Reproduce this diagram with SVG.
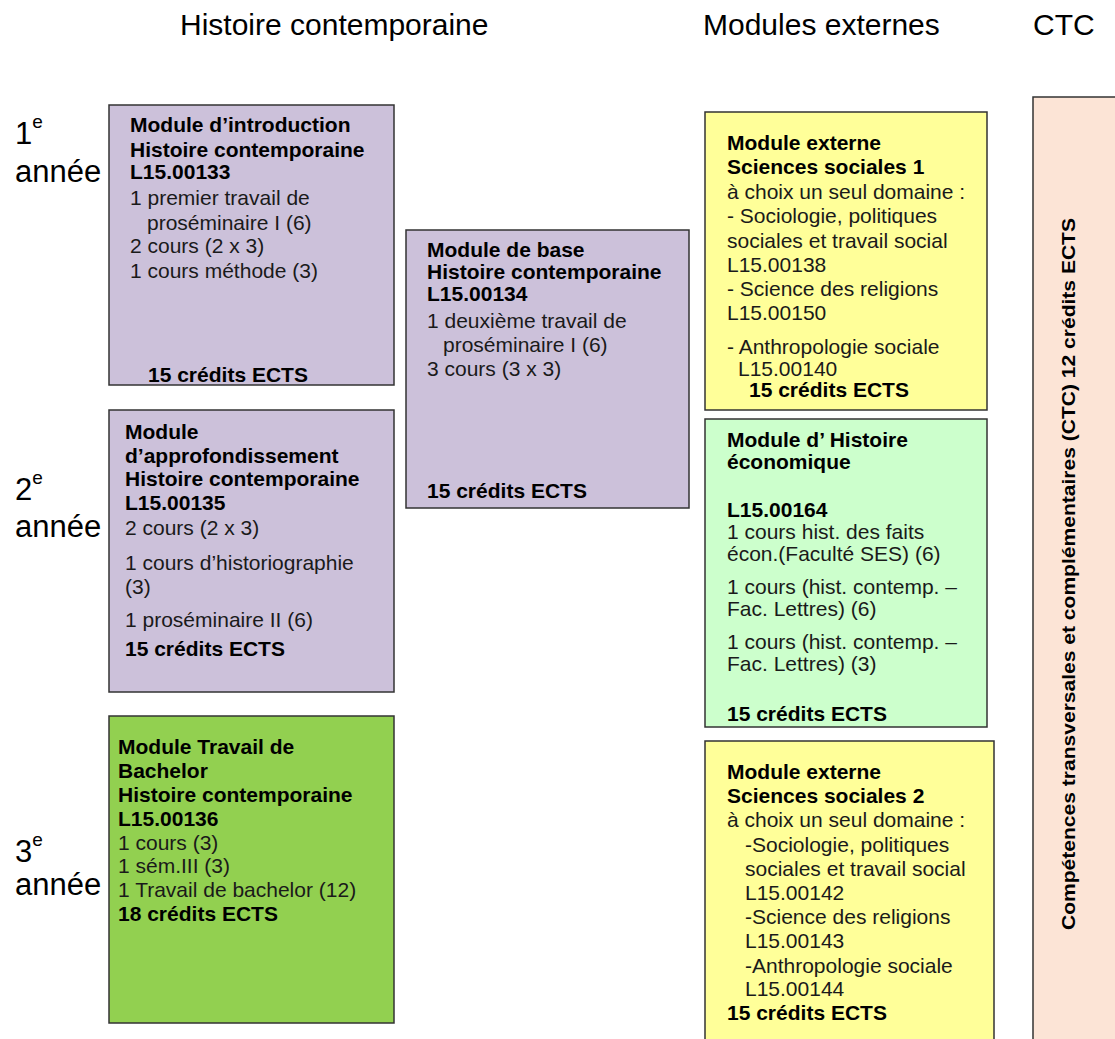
<svg xmlns="http://www.w3.org/2000/svg" width="1115" height="1039" viewBox="0 0 1115 1039">
<style>
text{font-family:"Liberation Sans",Arial,sans-serif;fill:#000}
.hd{font-size:30px}
.yr{font-size:31px}
.sup{font-size:19px}
.t{font-size:21px;fill:#1a1a1a}
.b{font-weight:bold;fill:#000}
.box{stroke:#333;stroke-width:1.5}
.lav{fill:#CCC1DA}
.yel{fill:#FFFF99}
.lgr{fill:#CCFFCC}
.grn{fill:#92D050}
.pch{fill:#FCE4D6}
.ctc{font-size:18px;font-weight:bold}
</style>
<rect width="1115" height="1039" fill="#fff"/>
<g id="headers">
<text class="hd" x="180" y="35">Histoire contemporaine</text>
<text class="hd" x="703" y="35">Modules externes</text>
<text class="hd" x="1033" y="35">CTC</text>
</g>
<g id="years">
<text class="yr" x="15" y="144">1<tspan class="sup" dy="-16">e</tspan></text>
<text class="yr" x="15" y="182">année</text>
<text class="yr" x="15" y="500">2<tspan class="sup" dy="-16">e</tspan></text>
<text class="yr" x="15" y="537">année</text>
<text class="yr" x="15" y="862">3<tspan class="sup" dy="-16">e</tspan></text>
<text class="yr" x="15" y="895">année</text>
</g>
<g id="connectors"/>
<g id="intro">
<rect class="box lav" x="109" y="105" width="285" height="280"/>
<text class="t b" x="130" y="132">Module d’introduction</text>
<text class="t b" x="130" y="157">Histoire contemporaine</text>
<text class="t b" x="130" y="179">L15.00133</text>
<text class="t" x="130" y="205">1 premier travail de</text>
<text class="t" x="147" y="230">proséminaire I (6)</text>
<text class="t" x="130" y="253">2 cours (2 x 3)</text>
<text class="t" x="130" y="278">1 cours méthode (3)</text>
<text class="t b" x="148" y="382">15 crédits ECTS</text>
</g>
<g id="base">
<rect class="box lav" x="406" y="230" width="283" height="278"/>
<text class="t b" x="427" y="257">Module de base</text>
<text class="t b" x="427" y="279">Histoire contemporaine</text>
<text class="t b" x="427" y="301">L15.00134</text>
<text class="t" x="427" y="328">1 deuxième travail de</text>
<text class="t" x="443" y="352">proséminaire I (6)</text>
<text class="t" x="427" y="376">3 cours (3 x 3)</text>
<text class="t b" x="427" y="498">15 crédits ECTS</text>
</g>
<g id="approfondissement">
<rect class="box lav" x="109" y="410" width="285" height="282"/>
<text class="t b" x="125" y="439">Module</text>
<text class="t b" x="125" y="463">d’approfondissement</text>
<text class="t b" x="125" y="486">Histoire contemporaine</text>
<text class="t b" x="125" y="510">L15.00135</text>
<text class="t" x="125" y="535">2 cours (2 x 3)</text>
<text class="t" x="125" y="570">1 cours d’historiographie</text>
<text class="t" x="125" y="594">(3)</text>
<text class="t" x="125" y="627">1 proséminaire II (6)</text>
<text class="t b" x="125" y="656">15 crédits ECTS</text>
</g>
<g id="bachelor">
<rect class="box grn" x="109" y="716" width="285" height="307"/>
<text class="t b" x="118" y="754">Module Travail de</text>
<text class="t b" x="118" y="778">Bachelor</text>
<text class="t b" x="118" y="802">Histoire contemporaine</text>
<text class="t b" x="118" y="826">L15.00136</text>
<text class="t" x="118" y="850">1 cours (3)</text>
<text class="t" x="118" y="873">1 sém.III (3)</text>
<text class="t" x="118" y="897">1 Travail de bachelor (12)</text>
<text class="t b" x="118" y="921">18 crédits ECTS</text>
</g>
<g id="externe1">
<rect class="box yel" x="705" y="112" width="282" height="298"/>
<text class="t b" x="727" y="150">Module externe</text>
<text class="t b" x="727" y="174">Sciences sociales 1</text>
<text class="t" x="727" y="199">à choix un seul domaine :</text>
<text class="t" x="727" y="223">- Sociologie, politiques</text>
<text class="t" x="727" y="248">sociales et travail social</text>
<text class="t" x="727" y="272">L15.00138</text>
<text class="t" x="727" y="296">- Science des religions</text>
<text class="t" x="727" y="320">L15.00150</text>
<text class="t" x="727" y="354">- Anthropologie sociale</text>
<text class="t" x="738" y="376">L15.00140</text>
<text class="t b" x="749" y="397">15 crédits ECTS</text>
</g>
<g id="economique">
<rect class="box lgr" x="705" y="419" width="282" height="308"/>
<text class="t b" x="727" y="447">Module d’ Histoire</text>
<text class="t b" x="727" y="469">économique</text>
<text class="t b" x="727" y="517">L15.00164</text>
<text class="t" x="727" y="539">1 cours hist. des faits</text>
<text class="t" x="727" y="561">écon.(Faculté SES) (6)</text>
<text class="t" x="727" y="594">1 cours (hist. contemp. –</text>
<text class="t" x="727" y="616">Fac. Lettres) (6)</text>
<text class="t" x="727" y="649">1 cours (hist. contemp. –</text>
<text class="t" x="727" y="671">Fac. Lettres) (3)</text>
<text class="t b" x="727" y="721">15 crédits ECTS</text>
</g>
<g id="externe2">
<rect class="box yel" x="705" y="741" width="289" height="320"/>
<text class="t b" x="727" y="779">Module externe</text>
<text class="t b" x="727" y="803">Sciences sociales 2</text>
<text class="t" x="727" y="827">à choix un seul domaine :</text>
<text class="t" x="745" y="852">-Sociologie, politiques</text>
<text class="t" x="745" y="876">sociales et travail social</text>
<text class="t" x="745" y="900">L15.00142</text>
<text class="t" x="745" y="924">-Science des religions</text>
<text class="t" x="745" y="948">L15.00143</text>
<text class="t" x="745" y="973">-Anthropologie sociale</text>
<text class="t" x="745" y="996">L15.00144</text>
<text class="t b" x="727" y="1020">15 crédits ECTS</text>
</g>
<g id="ctc">
<rect class="box pch" x="1033" y="97" width="110" height="970"/>
<text class="ctc" transform="translate(1075,574) rotate(-90)" text-anchor="middle" textLength="712" lengthAdjust="spacingAndGlyphs">Compétences transversales et complémentaires (CTC) 12 crédits ECTS</text>
</g>
</svg>
